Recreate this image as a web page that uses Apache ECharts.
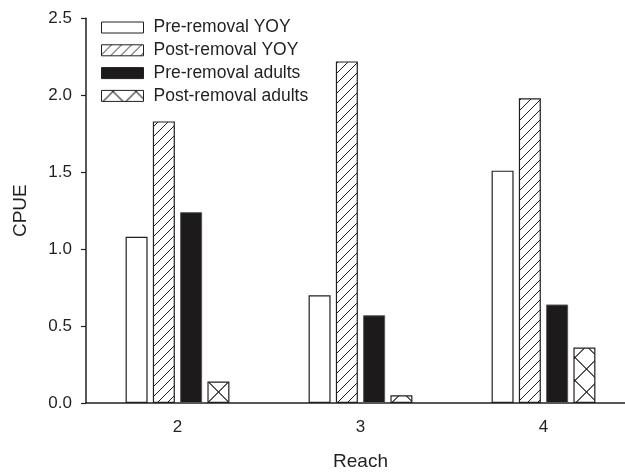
<!DOCTYPE html>
<html>
<head>
<meta charset="utf-8">
<script src="https://cdn.jsdelivr.net/npm/echarts@6/dist/echarts.min.js"></script>
<style>
  html, body { margin: 0; padding: 0; background: #fff; }
  #chart { width: 625px; height: 472px; }
</style>
</head>
<body>
<div id="chart"></div>
<script>
// data
const reaches = ['2', '3', '4']
const seriesNames = ['Pre-removal YOY', 'Post-removal YOY', 'Pre-removal adults', 'Post-removal adults']
const preYOY = [1.08, 0.70, 1.51]
const postYOY = [1.83, 2.22, 1.98]
const preAdults = [1.24, 0.57, 0.64]
const postAdults = [0.14, 0.05, 0.36]
const yTicks = [0, 0.5, 1.0, 1.5, 2.0, 2.5]

const ink = '#231f20'
const font = 'Liberation Sans, Arial, Helvetica, sans-serif'

// diagonal "////" hatch
function slashPattern() {
  const s = 10
  const c = document.createElement('canvas')
  c.width = s
  c.height = s
  const ctx = c.getContext('2d')
  ctx.fillStyle = '#fff'
  ctx.fillRect(0, 0, s, s)
  ctx.strokeStyle = ink
  ctx.lineWidth = 1
  for (let k = -1; k <= 1; k++) {
    ctx.beginPath()
    ctx.moveTo(k * s, s)
    ctx.lineTo(k * s + s, 0)
    ctx.stroke()
  }
  return c
}

// big "XXX" cross hatch, tile lined up with the bars
function crossPattern() {
  const s = 23
  const cx = 11.5, cy = 1
  const c = document.createElement('canvas')
  c.width = s
  c.height = s
  const ctx = c.getContext('2d')
  ctx.fillStyle = '#fff'
  ctx.fillRect(0, 0, s, s)
  ctx.strokeStyle = ink
  ctx.lineWidth = 1
  for (let i = -2; i <= 2; i++) {
    for (let j = -2; j <= 2; j++) {
      const ox = cx + i * s, oy = cy + j * s
      ctx.beginPath()
      ctx.moveTo(ox - s, oy - s)
      ctx.lineTo(ox + s, oy + s)
      ctx.moveTo(ox - s, oy + s)
      ctx.lineTo(ox + s, oy - s)
      ctx.stroke()
    }
  }
  return c
}

const chart = echarts.init(document.getElementById('chart'), null, { renderer: 'canvas' })

const barBase = {
  type: 'bar',
  barWidth: 22,
  barGap: '24%',
  animation: false
}

chart.setOption({
  backgroundColor: '#fff',
  animation: false,
  textStyle: { fontFamily: font, color: ink },
  grid: {
    left: 86,
    top: 18.3,
    width: 549,
    height: 384.7,
    outerBoundsMode: 'none',
    containLabel: false
  },
  legend: {
    orient: 'vertical',
    left: 101,
    top: 18.5,
    padding: 0,
    itemWidth: 42,
    itemHeight: 11,
    itemGap: 4.8,
    icon: 'rect',
    data: seriesNames,
    textStyle: { fontSize: 17.5, color: ink, fontFamily: font, padding: [0, 0, 0, 5] },
    itemStyle: { borderColor: ink, borderWidth: 1 }
  },
  xAxis: {
    type: 'category',
    data: reaches,
    name: 'Reach',
    nameLocation: 'middle',
    nameGap: 49,
    nameTextStyle: { fontSize: 19, color: ink, fontFamily: font },
    axisLine: { lineStyle: { color: ink, width: 1.5 } },
    axisTick: { alignWithLabel: true, length: 5, lineStyle: { color: ink, width: 1.2 } },
    axisLabel: { fontSize: 17, color: ink, margin: 16, fontFamily: font },
    splitLine: { show: false }
  },
  yAxis: {
    type: 'value',
    min: yTicks[0],
    max: yTicks[yTicks.length - 1],
    interval: 0.5,
    name: 'CPUE',
    nameLocation: 'middle',
    nameGap: 56,
    nameTextStyle: { fontSize: 19, color: ink, fontFamily: font },
    axisLine: { show: true, lineStyle: { color: ink, width: 1.5 } },
    axisTick: { show: true, length: 5, lineStyle: { color: ink, width: 1.2 } },
    axisLabel: {
      fontSize: 17,
      color: ink,
      margin: 14,
      fontFamily: font,
      formatter: v => v.toFixed(1)
    },
    splitLine: { show: false }
  },
  series: [
    Object.assign({}, barBase, {
      name: seriesNames[0],
      data: preYOY,
      itemStyle: { color: '#fff', borderColor: ink, borderWidth: 1.2 }
    }),
    Object.assign({}, barBase, {
      name: seriesNames[1],
      data: postYOY,
      itemStyle: {
        color: { image: slashPattern(), repeat: 'repeat' },
        borderColor: ink,
        borderWidth: 1.2
      }
    }),
    Object.assign({}, barBase, {
      name: seriesNames[2],
      data: preAdults,
      itemStyle: { color: '#1c1a1b', borderColor: '#555', borderWidth: 1 }
    }),
    Object.assign({}, barBase, {
      name: seriesNames[3],
      data: postAdults,
      itemStyle: {
        color: { image: crossPattern(), repeat: 'repeat' },
        borderColor: ink,
        borderWidth: 1.2
      }
    })
  ]
})
</script>
</body>
</html>
